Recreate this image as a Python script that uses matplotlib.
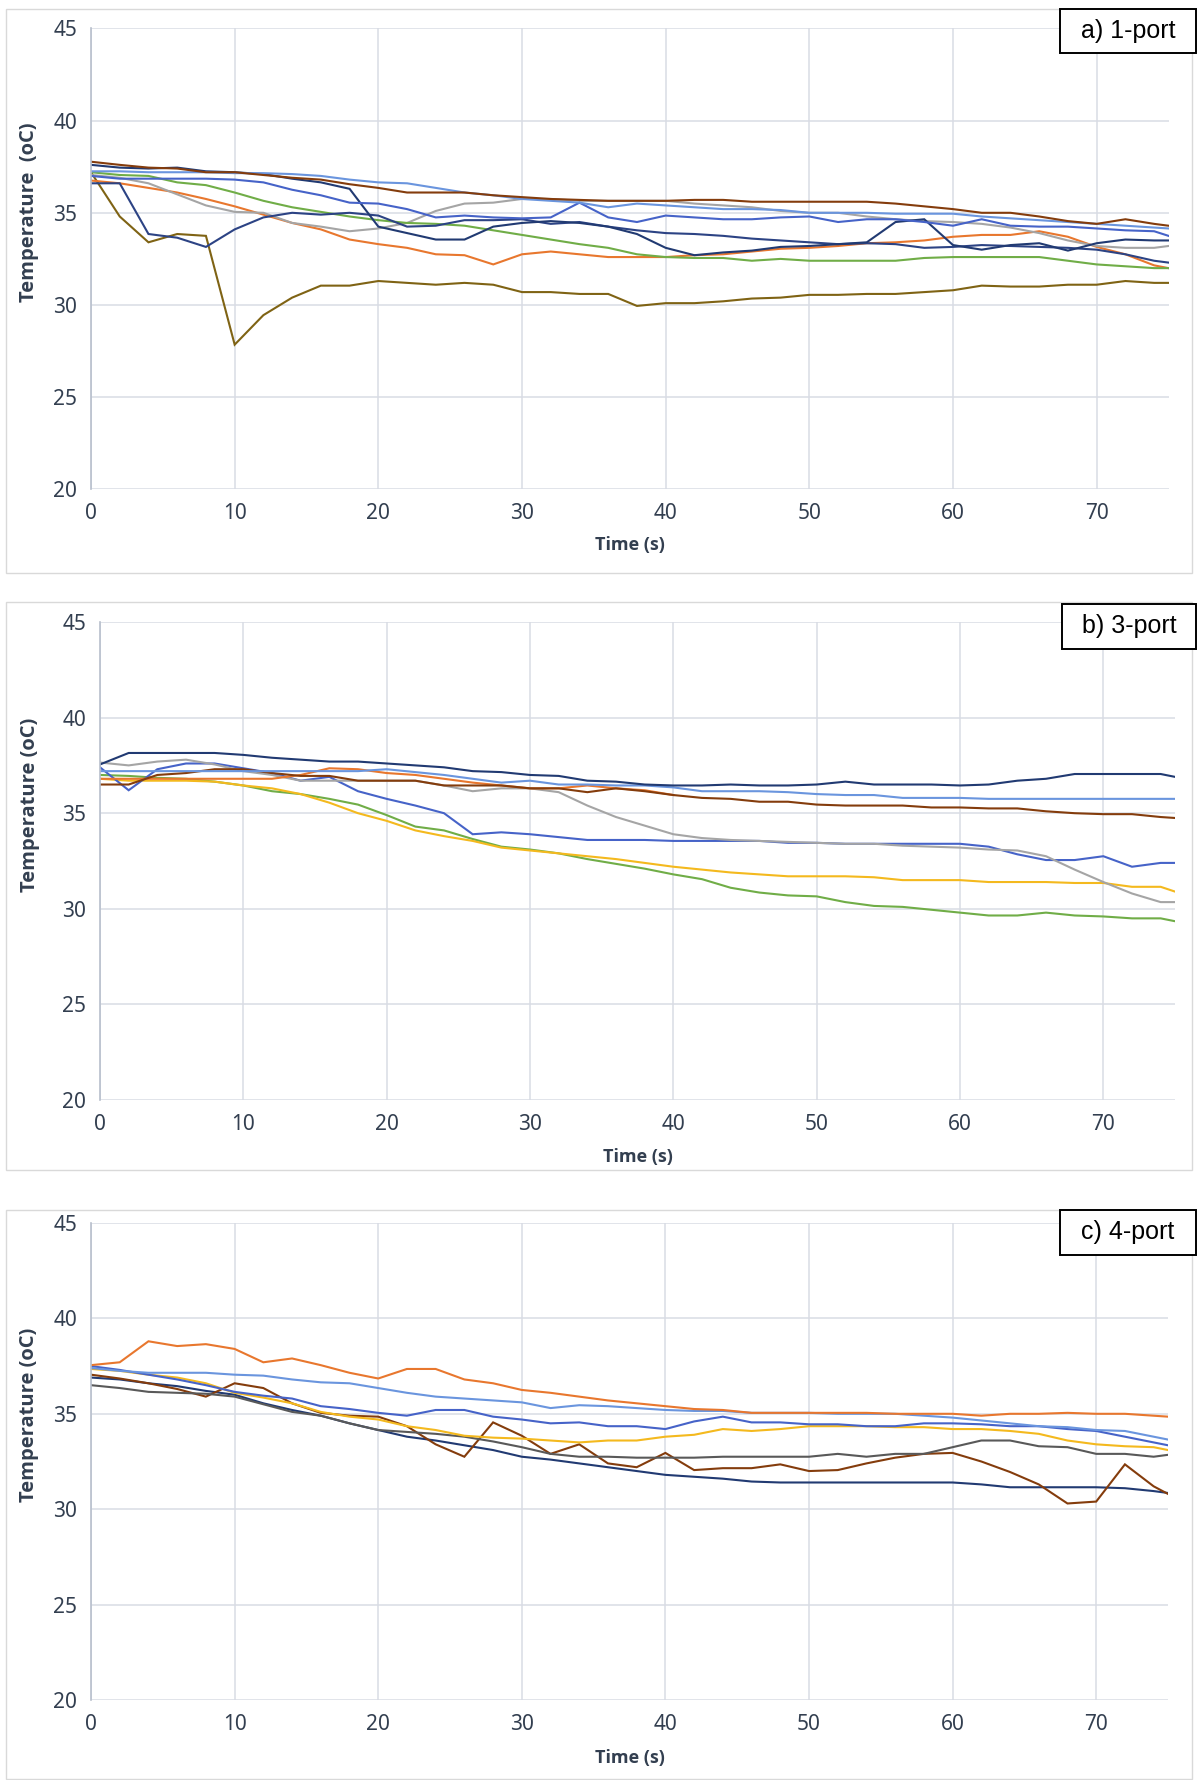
import numpy as np
import matplotlib
matplotlib.use("Agg")
import matplotlib.pyplot as plt
from matplotlib.patches import Rectangle

# time axis: samples every 2 s, last sample at 75 s
time = list(range(0, 76, 2)) + [75]

# ---- a) 1-port ----
a_brown = [37.77, 37.6, 37.45, 37.4, 37.2, 37.2, 37.05, 36.9, 36.8, 36.55, 36.35, 36.1, 36.1, 36.1, 35.95, 35.85, 35.75, 35.7, 35.65, 35.65,
           35.65, 35.7, 35.7, 35.6, 35.6, 35.6, 35.6, 35.6, 35.5, 35.35, 35.2, 35.0, 35.0, 34.8, 34.55, 34.4, 34.65, 34.4, 34.3]
a_lblue = [37.25, 37.25, 37.2, 37.2, 37.2, 37.15, 37.15, 37.1, 37.0, 36.8, 36.65, 36.6, 36.35, 36.1, 35.95, 35.75, 35.65, 35.55, 35.3, 35.5,
           35.4, 35.3, 35.2, 35.2, 35.15, 35.0, 35.0, 35.0, 34.95, 34.95, 34.95, 34.8, 34.7, 34.6, 34.5, 34.4, 34.3, 34.2, 34.15]
a_blue = [37.0, 36.85, 36.85, 36.85, 36.85, 36.8, 36.65, 36.25, 35.95, 35.55, 35.5, 35.2, 34.75, 34.85, 34.75, 34.7, 34.75, 35.55, 34.75, 34.5,
          34.85, 34.75, 34.65, 34.65, 34.75, 34.8, 34.5, 34.65, 34.65, 34.5, 34.3, 34.65, 34.3, 34.25, 34.25, 34.15, 34.05, 34.0, 33.75]
a_navy1 = [37.6, 37.45, 37.4, 37.45, 37.25, 37.2, 37.1, 36.85, 36.65, 36.3, 34.25, 33.9, 33.55, 33.55, 34.25, 34.45, 34.55, 34.45, 34.25, 33.85,
           33.1, 32.7, 32.85, 32.95, 33.15, 33.2, 33.3, 33.4, 34.5, 34.65, 33.25, 33.0, 33.25, 33.35, 32.95, 33.35, 33.55, 33.5, 33.5]
a_navy2 = [36.6, 36.6, 33.85, 33.65, 33.15, 34.1, 34.75, 35.0, 34.9, 35.0, 34.85, 34.25, 34.3, 34.6, 34.6, 34.65, 34.4, 34.5, 34.25, 34.05,
           33.9, 33.85, 33.75, 33.6, 33.5, 33.4, 33.3, 33.35, 33.3, 33.1, 33.15, 33.25, 33.2, 33.15, 33.1, 33.0, 32.75, 32.4, 32.3]
a_green = [37.2, 37.05, 37.0, 36.65, 36.5, 36.1, 35.65, 35.3, 35.05, 34.8, 34.6, 34.45, 34.4, 34.3, 34.05, 33.8, 33.55, 33.3, 33.1, 32.75,
           32.6, 32.55, 32.55, 32.4, 32.5, 32.4, 32.4, 32.4, 32.4, 32.55, 32.6, 32.6, 32.6, 32.6, 32.4, 32.2, 32.1, 32.0, 32.0]
a_gray = [37.05, 36.9, 36.6, 36.0, 35.4, 35.05, 35.0, 34.45, 34.25, 34.0, 34.15, 34.45, 35.1, 35.5, 35.55, 35.75, 35.75, 35.65, 35.65, 35.65,
          35.65, 35.5, 35.4, 35.3, 35.1, 35.0, 35.0, 34.8, 34.65, 34.55, 34.5, 34.4, 34.2, 33.9, 33.5, 33.2, 33.1, 33.1, 33.2]
a_orange = [36.75, 36.6, 36.35, 36.1, 35.75, 35.35, 34.9, 34.45, 34.1, 33.55, 33.3, 33.1, 32.75, 32.7, 32.2, 32.75, 32.9, 32.75, 32.6, 32.6,
            32.6, 32.7, 32.75, 32.9, 33.05, 33.1, 33.2, 33.35, 33.4, 33.5, 33.7, 33.8, 33.8, 34.0, 33.7, 33.15, 32.75, 32.15, 32.0]
a_olive = [37.2, 34.8, 33.4, 33.85, 33.75, 27.85, 29.45, 30.4, 31.05, 31.05, 31.3, 31.2, 31.1, 31.2, 31.1, 30.7, 30.7, 30.6, 30.6, 29.95,
           30.1, 30.1, 30.2, 30.35, 30.4, 30.55, 30.55, 30.6, 30.6, 30.7, 30.8, 31.05, 31.0, 31.0, 31.1, 31.1, 31.3, 31.2, 31.2]

# ---- b) 3-port ----
b_navy = [37.55, 38.15, 38.15, 38.15, 38.15, 38.05, 37.9, 37.8, 37.7, 37.7, 37.6, 37.5, 37.4, 37.2, 37.15, 37.0, 36.95, 36.7, 36.65, 36.5,
          36.45, 36.45, 36.5, 36.45, 36.45, 36.5, 36.65, 36.5, 36.5, 36.5, 36.45, 36.5, 36.7, 36.8, 37.05, 37.05, 37.05, 37.05, 36.9]
b_lblue = [37.2, 37.2, 37.2, 37.2, 37.2, 37.2, 37.2, 37.2, 37.2, 37.2, 37.3, 37.15, 37.0, 36.8, 36.6, 36.7, 36.5, 36.5, 36.45, 36.45,
           36.35, 36.15, 36.15, 36.15, 36.1, 36.0, 35.95, 35.95, 35.8, 35.8, 35.8, 35.75, 35.75, 35.75, 35.75, 35.75, 35.75, 35.75, 35.75]
b_orange = [36.8, 36.8, 36.8, 36.8, 36.8, 36.8, 36.8, 37.0, 37.35, 37.3, 37.1, 37.0, 36.8, 36.6, 36.45, 36.3, 36.3, 36.45, 36.3, 36.2,
            35.95]
b_brown = [36.5, 36.5, 37.0, 37.1, 37.3, 37.3, 37.1, 36.95, 36.95, 36.7, 36.7, 36.7, 36.45, 36.45, 36.45, 36.3, 36.3, 36.1, 36.3, 36.15,
           35.95, 35.8, 35.75, 35.6, 35.6, 35.45, 35.4, 35.4, 35.4, 35.3, 35.3, 35.25, 35.25, 35.1, 35.0, 34.95, 34.95, 34.8, 34.75]
b_gray = [37.65, 37.5, 37.7, 37.8, 37.55, 37.2, 37.0, 36.7, 36.7, 36.7, 36.7, 36.7, 36.45, 36.15, 36.3, 36.3, 36.1, 35.4, 34.8, 34.35,
          33.9, 33.7, 33.6, 33.55, 33.5, 33.45, 33.4, 33.4, 33.3, 33.25, 33.2, 33.1, 33.05, 32.75, 32.05, 31.4, 30.8, 30.35, 30.35]
b_blue = [37.4, 36.2, 37.3, 37.6, 37.6, 37.35, 37.1, 36.7, 36.9, 36.15, 35.75, 35.4, 35.0, 33.9, 34.0, 33.9, 33.75, 33.6, 33.6, 33.6,
          33.55, 33.55, 33.55, 33.55, 33.45, 33.45, 33.4, 33.4, 33.4, 33.4, 33.4, 33.25, 32.85, 32.55, 32.55, 32.75, 32.2, 32.4, 32.4]
b_gold = [36.8, 36.7, 36.7, 36.7, 36.65, 36.45, 36.3, 36.0, 35.55, 35.0, 34.6, 34.1, 33.8, 33.55, 33.2, 33.05, 32.9, 32.75, 32.6, 32.4,
          32.2, 32.05, 31.9, 31.8, 31.7, 31.7, 31.7, 31.65, 31.5, 31.5, 31.5, 31.4, 31.4, 31.4, 31.35, 31.35, 31.15, 31.15, 30.9]
b_green = [37.0, 36.95, 36.85, 36.8, 36.65, 36.45, 36.15, 36.0, 35.75, 35.45, 34.9, 34.3, 34.1, 33.65, 33.25, 33.1, 32.9, 32.6, 32.35, 32.1,
           31.8, 31.55, 31.1, 30.85, 30.7, 30.65, 30.35, 30.15, 30.1, 29.95, 29.8, 29.65, 29.65, 29.8, 29.65, 29.6, 29.5, 29.5, 29.35]

# ---- c) 4-port ----
c_orange = [37.55, 37.7, 38.8, 38.55, 38.65, 38.4, 37.7, 37.9, 37.55, 37.15, 36.85, 37.35, 37.35, 36.8, 36.6, 36.25, 36.1, 35.9, 35.7, 35.55,
            35.4, 35.25, 35.2, 35.05, 35.05, 35.05, 35.05, 35.05, 35.0, 35.0, 35.0, 34.9, 35.0, 35.0, 35.05, 35.0, 35.0, 34.9, 34.85]
c_lblue = [37.4, 37.25, 37.15, 37.15, 37.15, 37.05, 37.0, 36.8, 36.65, 36.6, 36.35, 36.1, 35.9, 35.8, 35.7, 35.6, 35.3, 35.45, 35.4, 35.3,
           35.2, 35.15, 35.15, 35.05, 35.05, 35.05, 35.0, 35.0, 35.0, 34.9, 34.8, 34.65, 34.5, 34.35, 34.3, 34.15, 34.1, 33.8, 33.65]
c_blue = [37.5, 37.3, 37.05, 36.8, 36.5, 36.15, 35.95, 35.8, 35.4, 35.25, 35.05, 34.9, 35.2, 35.2, 34.85, 34.7, 34.5, 34.55, 34.35, 34.35,
          34.2, 34.6, 34.85, 34.55, 34.55, 34.45, 34.45, 34.35, 34.35, 34.5, 34.5, 34.45, 34.35, 34.35, 34.2, 34.1, 33.8, 33.5, 33.35]
c_gold = [37.35, 37.25, 37.05, 36.9, 36.6, 36.1, 35.85, 35.55, 35.1, 34.85, 34.7, 34.35, 34.15, 33.85, 33.75, 33.7, 33.6, 33.5, 33.6, 33.6,
          33.8, 33.9, 34.2, 34.1, 34.2, 34.35, 34.35, 34.35, 34.3, 34.3, 34.2, 34.2, 34.1, 33.95, 33.6, 33.4, 33.3, 33.25, 33.1]
c_dgray = [36.5, 36.35, 36.15, 36.1, 36.05, 35.9, 35.5, 35.1, 34.9, 34.5, 34.15, 34.05, 33.95, 33.8, 33.55, 33.25, 32.9, 32.75, 32.75, 32.7,
           32.7, 32.7, 32.75, 32.75, 32.75, 32.75, 32.9, 32.75, 32.9, 32.9, 33.25, 33.6, 33.6, 33.3, 33.25, 32.9, 32.9, 32.75, 32.85]
c_brown = [37.05, 36.85, 36.6, 36.3, 35.9, 36.6, 36.35, 35.55, 35.05, 34.9, 34.85, 34.35, 33.4, 32.75, 34.55, 33.85, 32.9, 33.4, 32.4, 32.2,
           32.95, 32.05, 32.15, 32.15, 32.35, 32.0, 32.05, 32.4, 32.7, 32.9, 32.95, 32.5, 31.95, 31.3, 30.3, 30.4, 32.35, 31.2, 30.8]
c_navy = [36.9, 36.8, 36.6, 36.45, 36.2, 36.0, 35.55, 35.2, 34.9, 34.5, 34.15, 33.8, 33.6, 33.35, 33.1, 32.75, 32.6, 32.4, 32.2, 32.0,
          31.8, 31.7, 31.6, 31.45, 31.4, 31.4, 31.4, 31.4, 31.4, 31.4, 31.4, 31.3, 31.15, 31.15, 31.15, 31.15, 31.1, 30.95, 30.85]

BROWN = '#843c0c'
ORANGE = '#e8772e'
LBLUE = '#6a95de'
BLUE = '#4663c8'
NAVY = '#213a72'
NAVY2 = '#2c4384'
GREEN = '#70ad47'
GRAY = '#a5a5a5'
GOLD = '#f4b91e'
OLIVE = '#7f6314'
DGRAY = '#595959'

panels = [
    ("a) 1-port", "Temperature  (oC)",
     [(a_olive, OLIVE), (a_orange, ORANGE), (a_gray, GRAY), (a_green, GREEN), (a_navy2, NAVY2),
      (a_navy1, NAVY), (a_blue, BLUE), (a_lblue, LBLUE), (a_brown, BROWN)]),
    ("b) 3-port", "Temperature (oC)",
     [(b_green, GREEN), (b_gold, GOLD), (b_blue, BLUE), (b_gray, GRAY), (b_orange, ORANGE),
      (b_brown, BROWN), (b_lblue, LBLUE), (b_navy, NAVY)]),
    ("c) 4-port", "Temperature (oC)",
     [(c_navy, NAVY), (c_brown, BROWN), (c_dgray, DGRAY), (c_gold, GOLD), (c_blue, BLUE),
      (c_lblue, LBLUE), (c_orange, ORANGE)]),
]

W, H = 1198, 1780
fig = plt.figure(figsize=(W / 100, H / 100), dpi=100)

# plot area in pixels: left, right, top, bottom
areas = [(91, 1168.5, 28.4, 489.4), (100, 1175, 622, 1100), (91, 1168, 1223, 1700)]
frames = [(6, 1192, 9, 573), (6, 1192, 602, 1170), (6, 1192, 1210, 1779)]
boxes = [(1060, 1196, 9, 53), (1062, 1196, 604, 649), (1060, 1196, 1210, 1255)]
ylab_pos = [(-0.048, 0.602), (-0.056, 0.617), (-0.048, 0.597)]
xlab_y = [-0.101, -0.100, -0.103]

GRID = '#d9dce4'
TXT = '#333f50'
LABEL_FONT = ['Open Sans', 'DejaVu Sans']

for i, (tag, ylab, series) in enumerate(panels):
    fl, fr, ft, fb = frames[i]
    fig.patches.append(Rectangle((fl / W, 1 - fb / H), (fr - fl) / W, (fb - ft) / H,
                                 transform=fig.transFigure, fill=False,
                                 edgecolor='#d9d9d9', lw=1.0, zorder=-1))
    l, r, t, b = areas[i]
    ax = fig.add_axes([l / W, 1 - b / H, (r - l) / W, (b - t) / H])
    for vals, col in series:
        ax.plot(time[:len(vals)], vals, color=col, lw=1.5, solid_joinstyle='miter')
    ax.set_xlim(0, 75)
    ax.set_ylim(20, 45)
    ax.set_xticks(range(0, 71, 10))
    ax.set_yticks(range(20, 46, 5))
    ax.grid(True, color=GRID, lw=1.1)
    ax.set_axisbelow(True)
    for s in ['top', 'right', 'bottom']:
        ax.spines[s].set_visible(False)
    ax.spines['left'].set_color('#b8bfcc')
    ax.spines['left'].set_linewidth(1.2)
    ax.tick_params(length=0, labelsize=15, labelcolor=TXT, pad=10)
    for lab in ax.get_xticklabels() + ax.get_yticklabels():
        lab.set_fontfamily('Noto Sans')
    ax.set_xlabel('Time (s)', fontsize=13, fontweight='bold', color=TXT, family=LABEL_FONT)
    ax.xaxis.set_label_coords(0.5, xlab_y[i])
    ax.set_ylabel(ylab, fontsize=14.5, fontweight='bold', color=TXT, family=LABEL_FONT)
    ax.yaxis.set_label_coords(*ylab_pos[i])

    bl, br, bt, bb = boxes[i]
    fig.patches.append(Rectangle((bl / W, 1 - bb / H), (br - bl) / W, (bb - bt) / H,
                                 transform=fig.transFigure, facecolor='white',
                                 edgecolor='black', lw=1.4, zorder=5))
    fig.text((bl + br) / 2 / W, 1 - (bt + bb) / 2 / H, tag, ha='center', va='center',
             fontsize=18, family='Liberation Sans', color='black', zorder=6)

fig.savefig('out.png', dpi=100)
